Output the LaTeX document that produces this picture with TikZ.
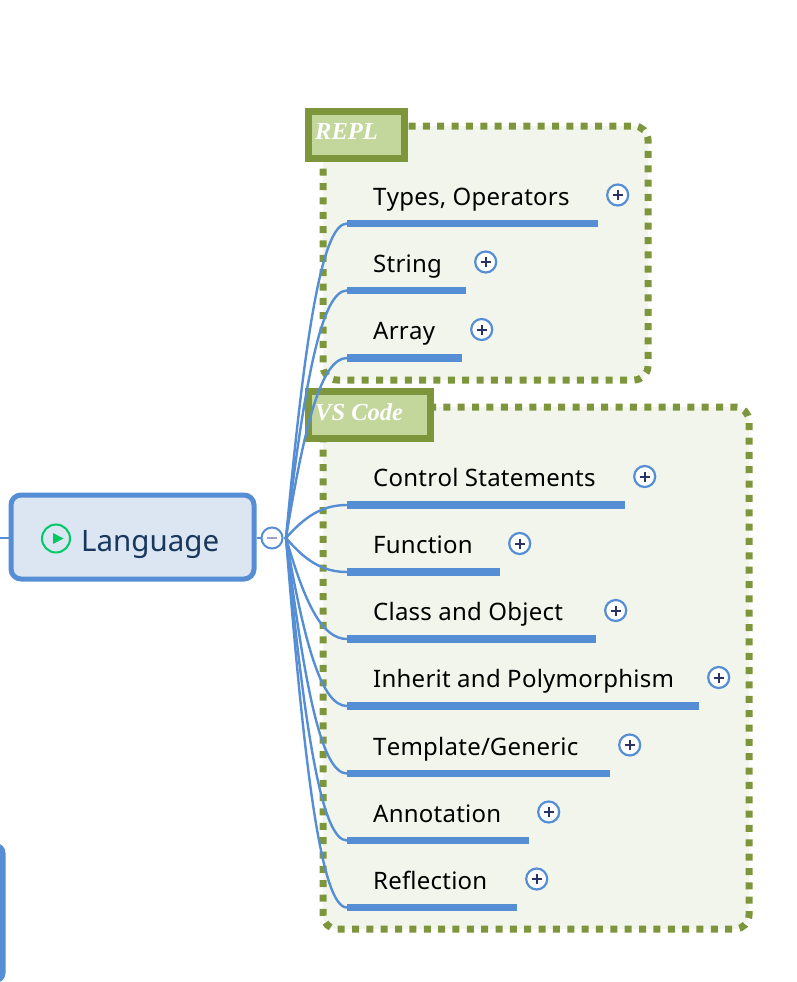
\documentclass[tikz,border=0pt]{standalone}
\usepackage{fontspec}
\setmainfont{Noto Sans}
\newfontfamily\tagfont{Liberation Serif}
\newfontfamily\topicfont[Kerning=Off,LetterSpace=1.0]{Noto Sans}
\usepackage{xcolor}
\definecolor{linkcol}{RGB}{85,142,213}
\definecolor{framecol}{RGB}{125,150,60}
\definecolor{framefill}{RGB}{241,245,235}
\definecolor{tagfill}{RGB}{195,214,155}
\definecolor{rootfill}{RGB}{220,230,242}
\definecolor{rootink}{RGB}{23,55,94}
\definecolor{playcol}{RGB}{0,200,100}
\definecolor{minuscol}{RGB}{160,160,205}
\definecolor{pluscol}{RGB}{40,50,100}

\tikzset{
    framebox/.style={draw=framecol, fill=framefill, line width=7pt, rounded corners=14pt, dash pattern=on 7pt off 7.35pt},
    tagbox/.style={draw=framecol, fill=tagfill, line width=7pt, anchor=north west, inner sep=0pt},
    tagtext/.style={text=white, font=\tagfont\bfseries\itshape\fontsize{24.5}{24.5}\selectfont, anchor=base west, inner sep=0pt},
    rootbox/.style={draw=linkcol, fill=rootfill, line width=5pt, rounded corners=10pt, inner sep=0pt, minimum width=243pt, minimum height=84pt},
    roottext/.style={text=rootink, font=\fontsize{29.5}{30}\selectfont, anchor=base west, inner sep=0pt},
    togglebtn/.style={circle, draw=linkcol, fill=white, line width=2pt, minimum size=21pt, inner sep=0pt},
    topicbar/.style={fill=linkcol, anchor=west, inner sep=0pt, minimum height=7.5pt},
    topictext/.style={text=black, font=\topicfont\fontsize{24}{24}\selectfont, anchor=base west, inner sep=0pt},
    plusbtn/.style={circle, draw=linkcol, fill=white, line width=2.2pt, minimum size=21pt, inner sep=0pt},
    link/.style={draw=linkcol, line width=2.4pt},
}

\begin{document}
\begin{tikzpicture}[x=1pt, y=-1pt]
    \useasboundingbox (0,0) rectangle (796,982);

    % corner of the next box
    \fill[linkcol, rounded corners=10pt] (-30,843) rectangle (5.5,983);

    % dotted frames
    \draw[framebox] (323,126) rectangle (648,380);
    \draw[framebox] (323,407) rectangle (749,929);

    \node[tagbox, minimum width=96pt, minimum height=47pt] (repltag) at (305,108) {};
    \node[tagtext] (repllabel) at (315,139) {REPL};
    \node[tagbox, minimum width=122pt, minimum height=47pt] (vstag) at (305,388) {};
    \node[tagtext] (vslabel) at (315,420) {VS Code};

    % root topic
    \node[rootbox] (language) at (132.5,537) {};
    \draw[draw=playcol, line width=2pt] (56,538.5) circle (14pt);
    \fill[playcol] (53,533) -- (63.5,538.5) -- (53,544) -- cycle;
    \node[roottext] (languagelabel) at (81,551) {Language};

    \coordinate (stub) at (0,538);
    \node[togglebtn] (toggle) at (272,538) {};
    \coordinate (hub) at (286,538);
    \draw[link] (stub) -- (stub -| language.west);
    \draw[link] (toggle -| language.east) -- (toggle.west);
    \draw[link] (toggle.east) -- (hub);
    \draw[minuscol, line width=1.5pt] (267,538) -- (277,538);

    % subtopics
    \foreach \name/\txt/\y/\xend in {
        types/{Types, Operators}/223.5/598,
        string/String/290.5/466,
        array/Array/358/462,
        control/Control Statements/505/625,
        function/Function/572/500,
        class/Class and Object/639/596,
        inherit/Inherit and Polymorphism/706/699,
        template/Template\slash Generic/773.5/610,
        annotation/Annotation/840.5/529,
        reflection/Reflection/907.5/517}
    {
        \pgfmathsetmacro{\barw}{\xend-347}
        \pgfmathsetmacro{\ctrly}{538+0.65*(\y-538)}
        \node[topicbar, minimum width=\barw pt] (\name) at (347,\y) {};
        \node[topictext] (\name label) at (373,\y-18.3) {\txt};
        \node[plusbtn] (\name plus) at (\xend+19.7,\y-28.5) {};
        \draw[pluscol, line width=2pt] ([xshift=-5pt]\name plus.center) -- ([xshift=5pt]\name plus.center);
        \draw[pluscol, line width=2pt] ([yshift=-5pt]\name plus.center) -- ([yshift=5pt]\name plus.center);
        \draw[link] (hub) .. controls (305,\ctrly) and (322,\y) .. (\name.west);
    }

\end{tikzpicture}
\end{document}
